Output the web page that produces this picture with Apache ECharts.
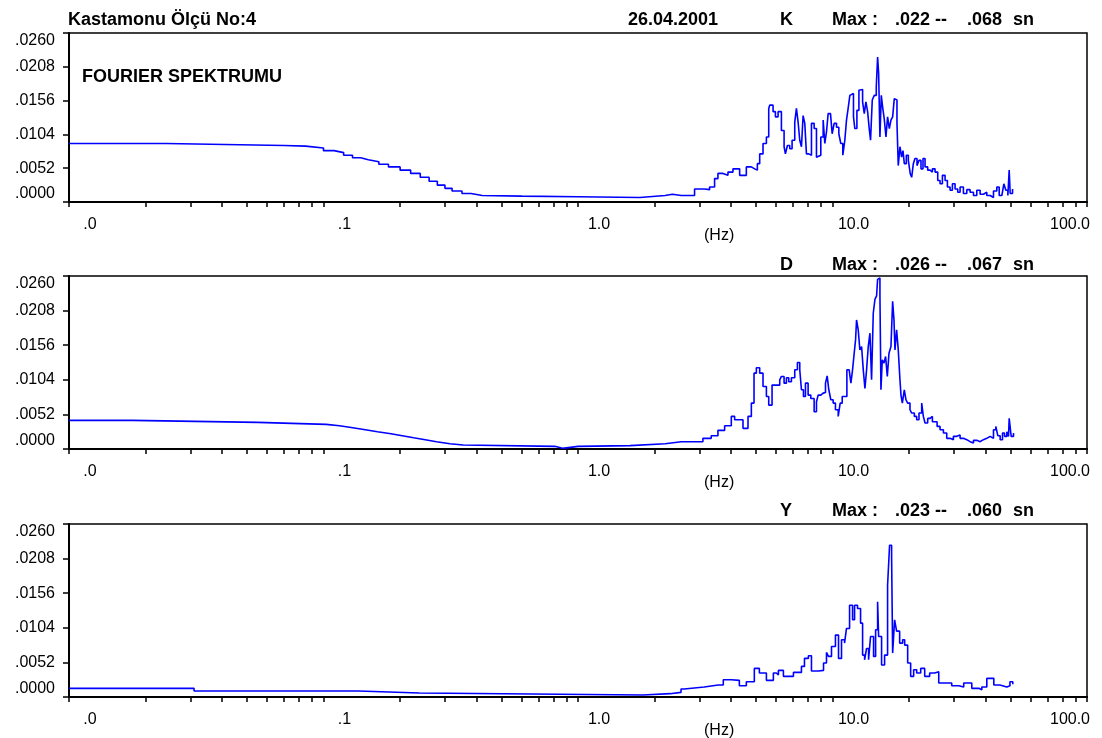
<!DOCTYPE html>
<html>
<head>
<meta charset="utf-8">
<title>Kastamonu Ölçü No:4 - Fourier Spektrumu</title>
<script src="https://cdn.jsdelivr.net/npm/echarts@6/dist/echarts.min.js"></script>
<style>
html, body { margin: 0; padding: 0; background: #fff; }
#chart { width: 1102px; height: 738px; }
</style>
</head>
<body>
<div id="chart"></div>
<script>
// frequency (Hz) / amplitude pairs
var kFreq = [0.01, 0.022, 0.024, 0.07, 0.085, 0.1, 0.11, 0.12, 0.13, 0.14, 0.15, 0.165, 0.18, 0.2, 0.22, 0.24, 0.26, 0.28, 0.3, 0.32, 0.35, 0.38, 0.42, 0.6, 1.0, 1.75, 2.2, 2.35,
  2.544, 2.744, 2.871, 3.143, 3.289, 3.441, 3.547, 3.712, 3.884, 4.064, 4.317, 4.586, 4.799, 4.946, 5.067, 5.175, 5.333, 5.499,
  5.616, 5.667, 5.841, 5.966, 6.112, 6.299, 6.453, 6.531, 6.65, 6.792, 6.937, 7.107, 7.215, 7.325, 7.436, 7.551, 7.665, 7.782,
  7.900, 8.069, 8.267, 8.469, 8.650, 8.782, 8.997, 9.190, 9.329, 9.471, 9.614, 9.820, 9.970, 10.15, 10.37, 10.59, 10.78, 10.98,
  11.18, 11.35, 11.52, 11.70, 11.88, 12.09, 12.24, 12.47, 12.70, 12.93, 13.13, 13.33, 13.53, 13.74, 13.94, 14.11, 14.33, 14.59,
  14.86, 15.04, 15.18, 15.36, 15.55, 15.74, 15.97, 16.22, 16.46, 16.72, 16.97, 17.23, 17.49, 17.70, 17.92, 18.13, 18.41, 18.69,
  18.92, 19.15, 19.50, 19.86, 20.22, 20.47, 20.78, 21.09, 21.48, 21.87, 22.27, 22.68, 23.10, 23.66, 24.17, 24.69, 25.29, 25.91,
  26.46, 27.03, 27.69, 28.28, 28.97, 29.59, 30.31, 31.05, 31.72, 32.69, 33.70, 34.73, 35.80, 36.89, 38.02, 39.19, 40.39, 41.64,
  42.91, 44.23, 45.18, 46.29, 47.13, 47.99, 48.87, 49.46, 49.91, 50.98];
var kAmp = [0.0090, 0.0090, 0.0087, 0.0086, 0.0083, 0.0079, 0.0076, 0.0072, 0.0068, 0.0065, 0.0062, 0.0058, 0.0054, 0.0049, 0.0044, 0.0038, 0.0032, 0.0026, 0.0021, 0.0017, 0.0013, 0.0010, 0.0009, 0.0008, 0.0007, 0.0010, 0.0012, 0.0010,
  0.0010, 0.0010, 0.0020, 0.0019, 0.0023, 0.0036, 0.0044, 0.0041, 0.0046, 0.0051, 0.0041, 0.0054, 0.0051, 0.0049, 0.0059, 0.0074, 0.0090, 0.0100,
  0.0144, 0.0149, 0.0139, 0.0131, 0.0139, 0.0110, 0.0085, 0.0074, 0.0087, 0.0082, 0.0095, 0.0123, 0.0144, 0.0123, 0.0095, 0.0085, 0.0133, 0.0121,
  0.0074, 0.0072, 0.0121, 0.0113, 0.0069, 0.0072, 0.0100, 0.0126, 0.0090, 0.0108, 0.0136, 0.0139, 0.0105, 0.0121, 0.0115, 0.0105, 0.0090, 0.0072,
  0.0095, 0.0126, 0.0144, 0.0164, 0.0167, 0.0131, 0.0113, 0.0141, 0.0172, 0.0173, 0.0154, 0.0136, 0.0154, 0.0139, 0.0113, 0.0095, 0.0157, 0.0164,
  0.0177, 0.0223, 0.0198, 0.0100, 0.0164, 0.0146, 0.0128, 0.0100, 0.0131, 0.0113, 0.0126, 0.0131, 0.0159, 0.0157, 0.0121, 0.0056, 0.0085, 0.0069,
  0.0079, 0.0059, 0.0072, 0.0064, 0.0043, 0.0038, 0.0059, 0.0067, 0.0056, 0.0064, 0.0051, 0.0067, 0.0054, 0.0049, 0.0046, 0.0051, 0.0046, 0.0033,
  0.0028, 0.0041, 0.0033, 0.0023, 0.0018, 0.0028, 0.0020, 0.0015, 0.0023, 0.0013, 0.0019, 0.0015, 0.0010, 0.0018, 0.0012, 0.0015, 0.0010, 0.0007,
  0.0017, 0.0023, 0.0010, 0.0013, 0.0028, 0.0018, 0.0010, 0.0049, 0.0013, 0.0020];

var dFreq = [0.01, 0.0177, 0.0551, 0.1024, 0.1156, 0.1304, 0.146, 0.163, 0.184, 0.204, 0.226, 0.251, 0.278, 0.314, 0.354, 0.81, 0.87, 1.0, 1.6, 2.2,
  2.544, 2.959, 3.096, 3.339, 3.547, 3.769, 4.003, 4.126, 4.449, 4.656, 4.799, 4.916, 5.021, 5.175, 5.333, 5.499, 5.616, 5.788,
  6.019, 6.205, 6.299, 6.453, 6.590, 6.731, 6.895, 7.107, 7.281, 7.436, 7.551, 7.689, 7.830, 8.020, 8.217, 8.469, 8.650, 8.782,
  8.997, 9.190, 9.385, 9.528, 9.673, 9.849, 10.06, 10.27, 10.53, 10.72, 10.92, 11.18, 11.39, 11.63, 11.81, 11.99, 12.17, 12.32,
  12.43, 12.62, 12.81, 13.01, 13.21, 13.41, 13.61, 13.82, 14.03, 14.24, 14.46, 14.68, 14.90, 15.04, 15.13, 15.36, 15.50, 15.69,
  15.93, 16.17, 16.42, 16.67, 16.97, 17.23, 17.44, 17.60, 17.86, 18.13, 18.41, 18.58, 18.81, 19.15, 19.44, 19.74, 20.16, 20.47,
  20.97, 21.42, 21.87, 22.41, 22.75, 23.10, 23.66, 24.17, 24.69, 25.29, 25.76, 26.46, 27.28, 28.11, 28.97, 29.86, 30.78, 31.72,
  32.69, 33.70, 34.73, 35.80, 36.89, 38.02, 39.19, 40.39, 41.64, 42.91, 43.82, 44.62, 45.58, 46.56, 47.42, 48.42, 49.16, 49.46,
  50.36, 51.44];
var dAmp = [0.0043, 0.0040, 0.0037, 0.0035, 0.0032, 0.0029, 0.0026, 0.0023, 0.0020, 0.0017, 0.0014, 0.0011, 0.0008, 0.0006, 0.0004, 0.0001, 0.0004, 0.0005, 0.0008, 0.0011,
  0.0011, 0.0011, 0.0016, 0.0020, 0.0028, 0.0035, 0.0049, 0.0044, 0.0031, 0.0049, 0.0069, 0.0114, 0.0122, 0.0114, 0.0094, 0.0079, 0.0066, 0.0096,
  0.0096, 0.0104, 0.0109, 0.0099, 0.0107, 0.0101, 0.0107, 0.0119, 0.0130, 0.0119, 0.0089, 0.0079, 0.0099, 0.0081, 0.0076, 0.0056, 0.0071, 0.0081,
  0.0084, 0.0085, 0.0099, 0.0110, 0.0089, 0.0074, 0.0069, 0.0059, 0.0049, 0.0069, 0.0079, 0.0079, 0.0119, 0.0119, 0.0099, 0.0119, 0.0144, 0.0164,
  0.0194, 0.0179, 0.0149, 0.0154, 0.0119, 0.0091, 0.0119, 0.0154, 0.0174, 0.0104, 0.0204, 0.0225, 0.0230, 0.0255, 0.0257, 0.0230, 0.0089, 0.0134,
  0.0129, 0.0139, 0.0109, 0.0144, 0.0154, 0.0222, 0.0194, 0.0149, 0.0179, 0.0149, 0.0104, 0.0081, 0.0069, 0.0089, 0.0074, 0.0069, 0.0059, 0.0054,
  0.0049, 0.0044, 0.0054, 0.0069, 0.0049, 0.0039, 0.0046, 0.0049, 0.0041, 0.0041, 0.0034, 0.0029, 0.0024, 0.0016, 0.0014, 0.0019, 0.0021, 0.0016,
  0.0014, 0.0011, 0.0009, 0.0013, 0.0011, 0.0014, 0.0016, 0.0019, 0.0016, 0.0029, 0.0034, 0.0020, 0.0014, 0.0024, 0.0019, 0.0026, 0.0019, 0.0046,
  0.0019, 0.0024];

var yFreq = [0.01, 0.031, 0.137, 0.238, 1.8, 2.3,
  2.54, 2.614, 3.133, 3.19, 3.557, 3.723, 4.003, 4.305, 4.586, 4.93, 5.16, 5.499, 5.857, 6.019, 6.13, 6.414, 6.77, 7.022,
  7.347, 7.55, 7.76, 8.04, 8.267, 8.81, 9.22, 9.47, 9.64, 9.91, 10.27, 10.56, 10.85, 11.15, 11.35, 11.67, 11.99, 12.21,
  12.54, 12.89, 13.13, 13.37, 13.61, 13.86, 14.11, 14.50, 14.77, 15.04, 15.18, 15.59, 16.02, 16.46, 16.76, 17.07, 17.23,
  17.54, 17.86, 18.36, 18.86, 19.21, 19.74, 20.28, 20.84, 21.42, 22.21, 23.03, 24.09, 25.2, 26.15, 27.6, 29.41, 31.34,
  32.78, 35.26, 37.57, 38.61, 40.4, 43.04, 45.46, 48.42, 49.8, 51.1];
var yAmp = [0.0013, 0.0009, 0.0006, 0.0003, 0.0005, 0.0007,
  0.0012, 0.0015, 0.0015, 0.0018, 0.0018, 0.0026, 0.0025, 0.0017, 0.0023, 0.0043, 0.0036, 0.0025, 0.0036, 0.0033, 0.0040, 0.0031, 0.0031, 0.0037,
  0.0037, 0.0046, 0.0058, 0.0062, 0.0039, 0.0040, 0.0051, 0.0067, 0.0061, 0.0076, 0.0093, 0.0058, 0.0086, 0.0081, 0.0103, 0.0138, 0.0116, 0.0138,
  0.0133, 0.0111, 0.0063, 0.0056, 0.0073, 0.0056, 0.0091, 0.0061, 0.0101, 0.0143, 0.0091, 0.0048, 0.0063, 0.0168, 0.0228, 0.0211, 0.0066,
  0.0116, 0.0099, 0.0081, 0.0086, 0.0078, 0.0051, 0.0031, 0.0041, 0.0036, 0.0043, 0.0031, 0.0036, 0.0038, 0.0021, 0.0021, 0.0017, 0.0015,
  0.0021, 0.0013, 0.0011, 0.0015, 0.0028, 0.0018, 0.0015, 0.0017, 0.0023, 0.0019];

var channels = ['K', 'D', 'Y'];
var maxAmp = ['.022', '.026', '.023'];
var maxTime = ['.068', '.067', '.060'];
var decadeLabels = { '-2': '.0', '-1': '.1', '0': '1.0', '1': '10.0', '2': '100.0' };

var font = 'Arial, "Liberation Sans", sans-serif';
var tops = [33, 276, 524];
var heights = [169, 173, 173];
var headerY = [20, 265, 511];

// log tick marks 1..9 per decade
var tickVals = [];
[0.01, 0.1, 1, 10].forEach(function (d) {
  for (var k = 1; k <= 9; k++) tickVals.push(+(d * k).toPrecision(3));
});
tickVals.push(100);

function pairs(f, a) {
  return f.map(function (v, i) { return [v, a[i]]; });
}

var grids = [], xAxes = [], yAxes = [], series = [], graphics = [];
var sets = [pairs(kFreq, kAmp), pairs(dFreq, dAmp), pairs(yFreq, yAmp)];

for (var i = 0; i < 3; i++) {
  grids.push({
    left: 69, right: 15, top: tops[i], height: heights[i],
    show: true, borderColor: '#000', borderWidth: 1.5, backgroundColor: 'transparent'
  });
  xAxes.push({
    type: 'log', logBase: 10, gridIndex: i, min: 0.01, max: 100,
    axisLine: { lineStyle: { color: '#000', width: 2 } },
    axisTick: { show: true, length: 5, lineStyle: { color: '#000', width: 1.5 }, customValues: tickVals },
    minorTick: { show: false },
    splitLine: { show: false },
    axisLabel: {
      customValues: [0.01, 0.1, 1, 10, 100],
      margin: 15,
      color: '#000', fontSize: 16, fontFamily: font,
      formatter: function (v) {
        var e = Math.round(Math.log(v) / Math.LN10);
        return e === 2 ? '{b|' + decadeLabels[e] + '}' : '{a|' + decadeLabels[e] + '}';
      },
      rich: {
        a: { padding: [0, 0, 0, 42], fontSize: 16, fontFamily: font, color: '#000' },
        b: { padding: [0, 34, 0, 0], fontSize: 16, fontFamily: font, color: '#000' }
      }
    }
  });
  yAxes.push({
    type: 'value', gridIndex: i, min: 0, max: 0.026, interval: 0.0052,
    axisLine: { show: true, lineStyle: { color: '#000', width: 2 } },
    axisTick: { show: true, length: 6, lineStyle: { color: '#000', width: 1.5 } },
    splitLine: { show: false },
    axisLabel: {
      margin: 14, color: '#000', fontSize: 16, fontFamily: font,
      verticalAlignMaxLabel: 'top', verticalAlignMinLabel: 'bottom',
      formatter: function (v) { return v.toFixed(4).slice(1); }
    }
  });
  series.push({
    type: 'line', xAxisIndex: i, yAxisIndex: i, data: sets[i],
    step: 'end', showSymbol: false, symbol: 'none',
    lineStyle: { color: '#0000ff', width: 1.6 },
    animation: false
  });

  var hy = headerY[i];
  graphics.push(
    { type: 'text', left: 780, top: hy - 9, style: { text: channels[i], font: 'bold 18px ' + font, fill: '#000' } },
    { type: 'text', left: 832, top: hy - 9, style: { text: 'Max :', font: 'bold 18px ' + font, fill: '#000' } },
    { type: 'text', left: 895, top: hy - 9, style: { text: maxAmp[i] + ' --', font: 'bold 18px ' + font, fill: '#000' } },
    { type: 'text', left: 967, top: hy - 9, style: { text: maxTime[i], font: 'bold 18px ' + font, fill: '#000' } },
    { type: 'text', left: 1013, top: hy - 9, style: { text: 'sn', font: 'bold 18px ' + font, fill: '#000' } },
    { type: 'text', left: 704, top: tops[i] + heights[i] + 26, style: { text: '(Hz)', font: '16px ' + font, fill: '#000' } }
  );
}

graphics.push(
  { type: 'text', left: 68, top: headerY[0] - 9, style: { text: 'Kastamonu Ölçü No:4', font: 'bold 18px ' + font, fill: '#000' } },
  { type: 'text', left: 628, top: headerY[0] - 9, style: { text: '26.04.2001', font: 'bold 18px ' + font, fill: '#000' } },
  { type: 'text', left: 82, top: 68, style: { text: 'FOURIER SPEKTRUMU', font: 'bold 18px ' + font, fill: '#000' } }
);

var chart = echarts.init(document.getElementById('chart'));
chart.setOption({
  backgroundColor: '#fff',
  animation: false,
  grid: grids,
  xAxis: xAxes,
  yAxis: yAxes,
  series: series,
  graphic: graphics
});
</script>
</body>
</html>
